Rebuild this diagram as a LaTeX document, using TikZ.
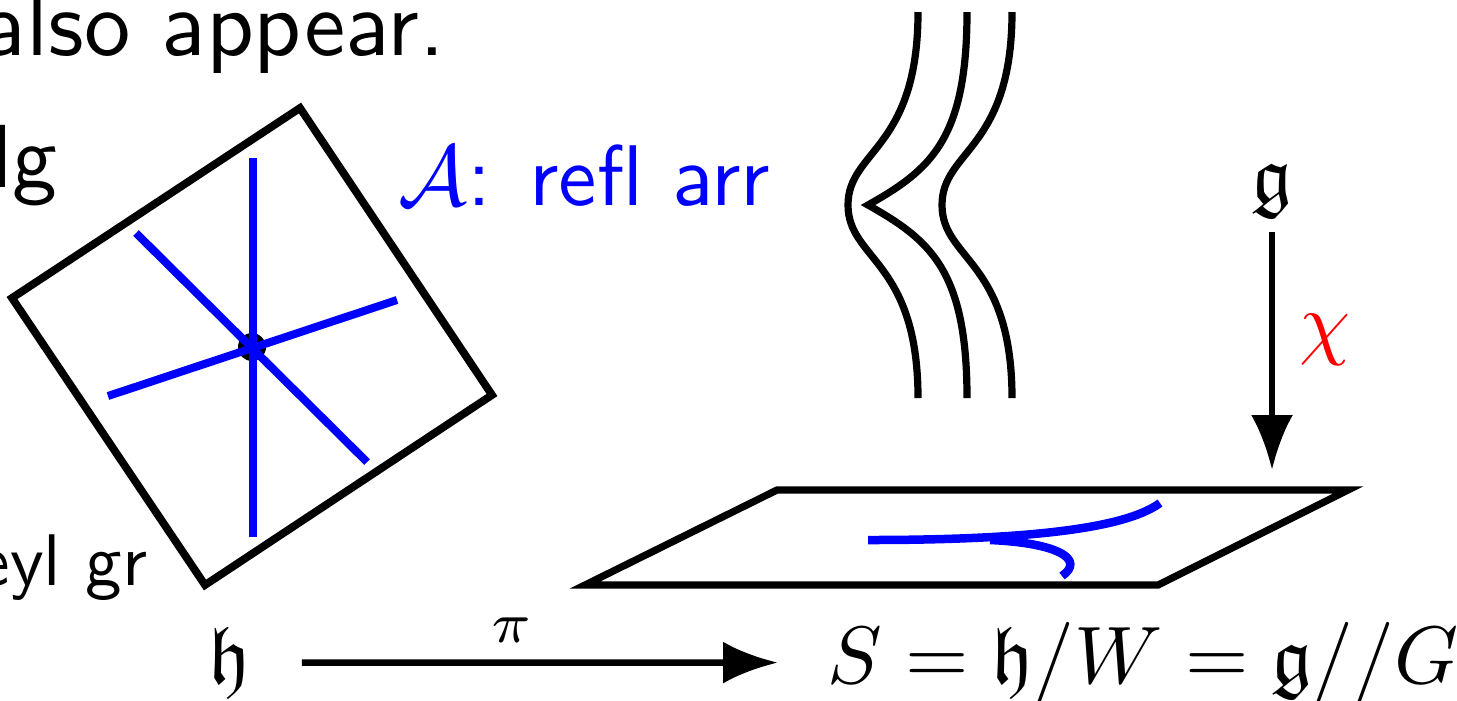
\documentclass[tikz,border=0pt]{standalone}
\usepackage{graphicx}
\usepackage{amsmath}
\usepackage{amssymb}
\usetikzlibrary{arrows.meta}
\tikzset{
  frame/.style={line width=0.78mm, line join=miter},
  refl/.style={blue, line width=0.8mm},
  level/.style={line width=0.72mm},
  arr/.style={-{Latex[length=5.5mm, width=4.2mm]}, line width=0.65mm},
  slide/.style={font=\sffamily, inner sep=0pt},
  sym/.style={inner sep=0pt},
}

\begin{document}
\begin{tikzpicture}[x=0.1mm, y=-0.1mm]
  \useasboundingbox (0,0) rectangle (1457,700);
  \node[slide, anchor=base east] (also) at (446,55) {\scalebox{2.64}{also appear.}};
  \node[slide, anchor=base east] (alg) at (58,187) {\scalebox{2.55}{lg}};
  \node[slide, anchor=base east] (weyl) at (148,585) {\scalebox{2.08}{eyl gr}};
  \node[slide, anchor=base west, blue] (arrtxt) at (398,205) {\scalebox{2.45}{$\mathcal{A}$: refl arr}};

  \draw[frame] (12,298) -- (300,108) -- (492,395) -- (205,585) -- cycle;
  \coordinate (o) at (252,347);
  \fill (o) circle (1.4mm);
  \draw[refl] (253,158) -- (253,537);
  \draw[refl] (136,233) -- (367,462);
  \draw[refl] (108,396) -- (397,300);

  \draw[level] (918,12) .. controls (918,150) and (848,150) .. (848,205)
    .. controls (848,260) and (918,260) .. (918,398);
  \draw[level] (967,12) .. controls (967,140) and (930,170) .. (868,205)
    .. controls (930,240) and (967,270) .. (967,398);
  \draw[level] (1012,12) .. controls (1012,150) and (942,150) .. (942,205)
    .. controls (942,260) and (1012,260) .. (1012,398);

  \draw[frame, line width=0.72mm] (777,490) -- (1348,490) -- (1158,585) -- (585,585) -- cycle;
  \draw[refl, line width=0.85mm] (868,540) .. controls (1050,540) and (1130,525) .. (1160,503);
  \draw[refl, line width=0.85mm] (990,540) .. controls (1060,543) and (1085,560) .. (1062,576);

  \node[sym, anchor=base] (g) at (1272,202) {\scalebox{2.32}{$\mathfrak{g}$}};
  \coordinate (plane) at (1272,470);
  \draw[arr, shorten <=1.4mm] (g) -- (plane);
  \node[sym, red] (chi) at (1325,340) {\scalebox{2.32}{$\chi$}};

  \node[sym, anchor=base] (h) at (230,683) {\scalebox{2.32}{$\mathfrak{h}$}};
  \node[sym, anchor=base west] (quot) at (827,683) {\scalebox{2.32}{$S=\mathfrak{h}/W=\mathfrak{g}//G$}};
  \draw[arr, shorten <=5mm, shorten >=4.9mm] (h) -- (quot);
  \node[sym] (pi) at (512,630) {\scalebox{2.32}{$\scriptstyle\pi$}};
\end{tikzpicture}
\end{document}
